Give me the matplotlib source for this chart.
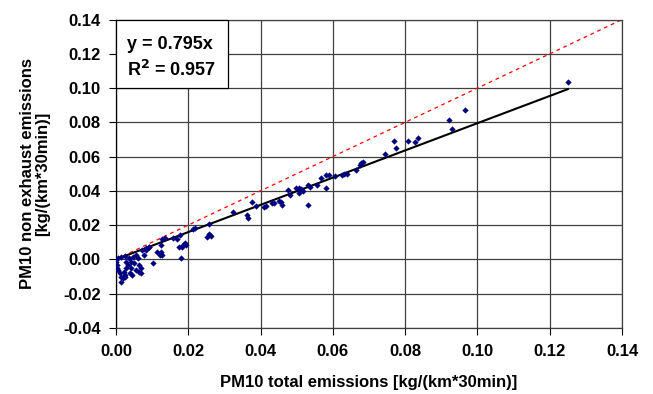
import matplotlib
matplotlib.use("Agg")
import matplotlib.pyplot as plt
from matplotlib.patches import Rectangle
import numpy as np

plt.rcParams['font.family'] = ['Liberation Sans', 'DejaVu Sans']
plt.rcParams['font.weight'] = 'bold'

total = [0.0000, 0.0004, 0.0002, 0.0006, 0.0011, 0.0015, 0.0013, 0.0020, 0.0024, 0.0022,
         0.0029, 0.0029, 0.0033, 0.0035, 0.0042, 0.0042, 0.0039, 0.0044, 0.0047, 0.0056,
         0.0060, 0.0065, 0.0069, 0.0051, 0.0073, 0.0082, 0.0091, 0.0078, 0.0103, 0.0114,
         0.0123, 0.0015, 0.0006, 0.0024, 0.0056, 0.0065, 0.0070, 0.0025, 0.0092, 0.0083,
         0.0126, 0.0135, 0.0124, 0.0126, 0.0159, 0.0168, 0.0177, 0.0173, 0.0186, 0.0191,
         0.0195, 0.0184, 0.0180, 0.0213, 0.0218, 0.0252, 0.0258, 0.0262, 0.0258, 0.0124,
         0.0325, 0.0363, 0.0366, 0.0377, 0.0386, 0.0410, 0.0415, 0.0433, 0.0438, 0.0452,
         0.0457, 0.0460, 0.0477, 0.0482, 0.0498, 0.0506, 0.0507, 0.0518, 0.0530, 0.0537,
         0.0531, 0.0556, 0.0567, 0.0581, 0.0581, 0.0589, 0.0607, 0.0624, 0.0632, 0.0639,
         0.0664, 0.0676, 0.0679, 0.0684, 0.0744, 0.0769, 0.0776, 0.0807, 0.0827, 0.0836,
         0.0922, 0.0929, 0.0966, 0.1250, 0.0513]
non_exhaust = [-0.0014, -0.0033, -0.0053, -0.0062, -0.0082, -0.0101, -0.0130, -0.0111, -0.0092, -0.0072,
               -0.0053, -0.0018, -0.0033, 0.0006, -0.0014, -0.0053, -0.0082, -0.0092, 0.0016, 0.0025,
               0.0006, -0.0033, -0.0053, -0.0023, 0.0055, 0.0064, 0.0074, 0.0025, -0.0023, 0.0045,
               0.0025, 0.0016, 0.0006, 0.0021, -0.0063, -0.0072, -0.0082, -0.0102, 0.0074, 0.0054,
               0.0117, 0.0123, 0.0044, 0.0025, 0.0123, 0.0117, 0.0142, 0.0070, 0.0084, 0.0093,
               0.0084, 0.0070, 0.0009, 0.0175, 0.0181, 0.0132, 0.0146, 0.0136, 0.0204, 0.0084,
               0.0278, 0.0259, 0.0241, 0.0336, 0.0311, 0.0305, 0.0311, 0.0327, 0.0331, 0.0341,
               0.0335, 0.0317, 0.0403, 0.0374, 0.0416, 0.0415, 0.0386, 0.0399, 0.0432, 0.0424,
               0.0315, 0.0436, 0.0475, 0.0415, 0.0491, 0.0494, 0.0485, 0.0494, 0.0498, 0.0500,
               0.0522, 0.0549, 0.0561, 0.0570, 0.0617, 0.0691, 0.0650, 0.0691, 0.0683, 0.0709,
               0.0812, 0.0759, 0.0870, 0.1035, 0.0409]

slope = 0.795
r2 = 0.957
x_ticks = [0.00, 0.02, 0.04, 0.06, 0.08, 0.10, 0.12, 0.14]
y_ticks = [-0.04, -0.02, 0.00, 0.02, 0.04, 0.06, 0.08, 0.10, 0.12, 0.14]

fig = plt.figure(figsize=(6.53, 3.94), dpi=100)
ax = fig.add_axes([0.1776, 0.168, 0.775, 0.7823])

ax.set_xlim(0, 0.14)
ax.set_ylim(-0.04, 0.14)
ax.set_xticks(x_ticks)
ax.set_yticks(y_ticks)
ax.set_xticklabels([f"{t:.2f}" for t in x_ticks])
ax.set_yticklabels([f"{t:.2f}" for t in y_ticks])
ax.grid(True, color='#404040', linewidth=0.9, zorder=0)
ax.set_axisbelow(True)
for s in ax.spines.values():
    s.set_color('#404040')
    s.set_linewidth(0.9)
ax.spines['left'].set_color('black')

ax.tick_params(direction='out', length=5, width=0.8, labelsize=12, pad=6)
ax.tick_params(axis='x', pad=7)

# 1:1 line
xx = np.array([0, 0.14])
ax.plot(xx, xx, color='red', linestyle=(0, (3, 3)), linewidth=0.9, zorder=2)
# trend line
xt = np.array([0, max(total)])
ax.plot(xt, slope * xt, color='black', linewidth=1.5, zorder=3)

ax.plot(total, non_exhaust, linestyle='none', marker='D', markersize=3.2,
        color='#000080', markeredgewidth=0, zorder=4)

# annotation box (from y=0.10 to top, left edge at x=0)
box_bottom = (0.10 + 0.04) / 0.18
ax.add_patch(Rectangle((0, box_bottom), 0.222, 1 - box_bottom, transform=ax.transAxes,
                       facecolor='white', edgecolor='black', linewidth=0.9, zorder=5, clip_on=False))
ax.text(0.021, 0.905, f"y = {slope}x", transform=ax.transAxes, fontsize=13,
        fontweight='bold', zorder=6, va='baseline')
ax.text(0.021, 0.818, f"R$^\\mathbf{{2}}$ = {r2}", transform=ax.transAxes, fontsize=13,
        fontweight='bold', zorder=6, va='baseline')

ax.set_xlabel("PM10 total emissions [kg/(km*30min)]", fontsize=12, fontweight='bold')
ax.xaxis.set_label_coords(0.5, -0.153)
ax.set_ylabel("PM10 non exhaust emissions\n[kg/(km*30min)]", fontsize=12,
              fontweight='bold', linespacing=1.05)
ax.yaxis.set_label_coords(-0.13, 0.5)

fig.savefig("out.png", dpi=100)
